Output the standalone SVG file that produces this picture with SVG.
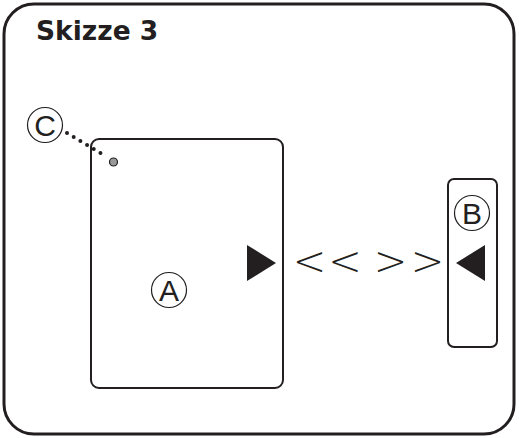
<svg xmlns="http://www.w3.org/2000/svg" width="519" height="438" viewBox="0 0 519 438">
<style>
.box{fill:#fff;stroke:#231f20;stroke-width:2}
.lbl{font-family:"Liberation Sans",Arial,sans-serif;font-size:30px;fill:#231f20;text-anchor:middle}
.ring{fill:none;stroke:#231f20;stroke-width:1.2}
.tri{fill:#231f20}
.chev{font-family:"DejaVu Sans ExtraLight","DejaVu Sans",sans-serif;font-weight:200;font-size:40px;fill:#231f20;text-anchor:middle}
</style>
<rect x="0" y="0" width="519" height="438" fill="#fff"/>
<g id="frame">
<rect x="4" y="4" width="510" height="430" rx="30" fill="#fff" stroke="#231f20" stroke-width="3"/>
<text x="36" y="40" font-family="DejaVu Sans,Verdana,sans-serif" font-weight="bold" font-size="26.5" fill="#231f20">Skizze 3</text>
</g>
<g id="nodeA">
<rect class="box" x="91" y="139" width="192" height="249" rx="8"/>
<circle class="ring" cx="169" cy="290" r="17.5"/>
<text class="lbl" x="169" y="300.5">A</text>
<polygon class="tri" points="247,245 276,263 247,281"/>
</g>
<g id="nodeB">
<rect class="box" x="448" y="179" width="49" height="168" rx="6"/>
<circle class="ring" cx="472" cy="213" r="17.5"/>
<text class="lbl" x="472" y="223.5">B</text>
<polygon class="tri" points="485,245 456,263 485,281"/>
</g>
<g id="nodeC">
<circle class="ring" cx="45" cy="125" r="17.5"/>
<text class="lbl" x="45" y="135.5">C</text>
</g>
<g id="connectors">
<line x1="67" y1="133" x2="107" y2="157" stroke="#231f20" stroke-width="4" stroke-linecap="round" stroke-dasharray="0 7.8"/>
<circle cx="113.5" cy="162" r="4" fill="#999" stroke="#231f20" stroke-width="1.2"/>
<text class="chev" x="309.5" y="275">&lt;</text>
<text class="chev" x="345" y="275">&lt;</text>
<text class="chev" x="390.5" y="275">&gt;</text>
<text class="chev" x="427.5" y="275">&gt;</text>
</g>
</svg>
